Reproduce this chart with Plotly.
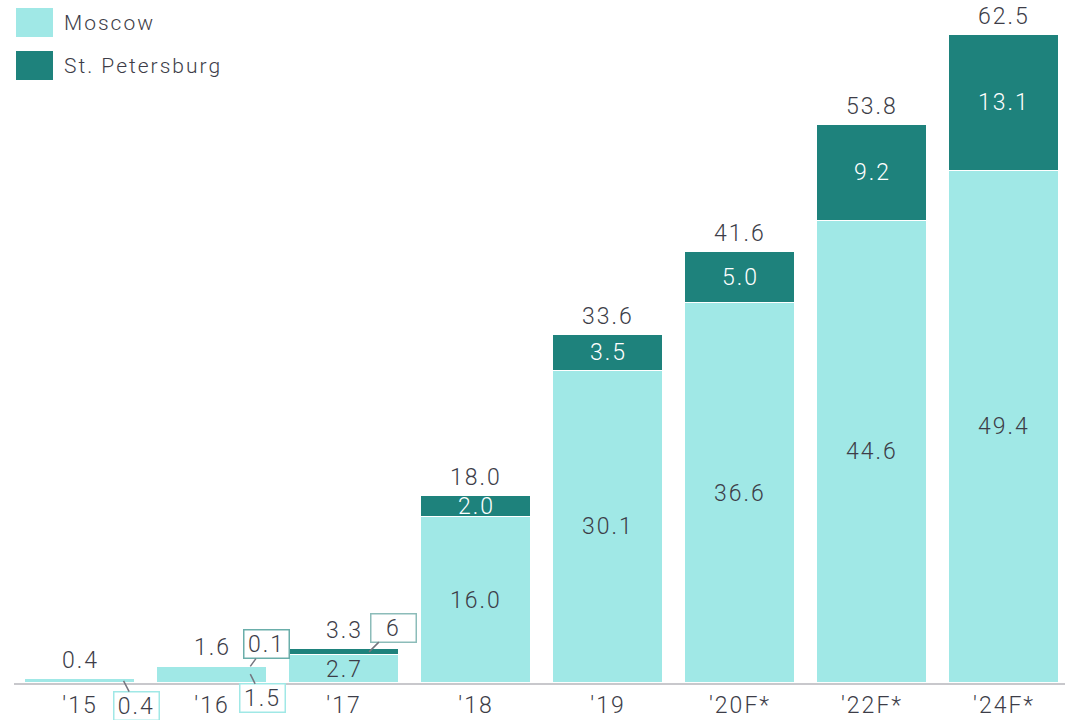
import plotly.graph_objects as go

years = ["′15", "′16", "′17", "′18", "′19", "′20F*", "′22F*", "′24F*"]
moscow = [0.4, 1.5, 2.7, 16.0, 30.1, 36.6, 44.6, 49.4]
spb = [0.0, 0.1, 0.6, 2.0, 3.5, 5.0, 9.2, 13.1]
totals = [0.4, 1.6, 3.3, 18.0, 33.6, 41.6, 53.8, 62.5]
spb_labels = ["", "0.1", "6", "2.0", "3.5", "5.0", "9.2", "13.1"]
moscow_labels = ["0.4", "1.5", "2.7", "16.0", "30.1", "36.6", "44.6", "49.4"]
legend_names = ["Moscow", "St. Petersburg"]

C_MOS = "#a0e8e6"
C_SPB = "#1e827c"
TXT = "#3d3d48"
FONT = "Roboto"
FS = 23
LS = 2  # letter spacing px

W, H = 1065, 720
ML, MT, MB = 14, 9, 37
PW, PH = W - ML, H - MT - MB

def px(xp):
    return (xp - ML) / PW

def py(yp):
    return (H - MB - yp) / PH

x = list(range(len(years)))
fig = go.Figure()
fig.add_trace(go.Bar(x=x, y=moscow, name=legend_names[0], marker=dict(color=C_MOS, line=dict(color="white", width=1)),
                     width=0.83, showlegend=False, hoverinfo="skip"))
fig.add_trace(go.Bar(x=x, y=spb, name=legend_names[1], marker=dict(color=C_SPB, line=dict(color="white", width=1)),
                     width=0.83, showlegend=False, hoverinfo="skip"))

def f(color=TXT, size=FS):
    return dict(size=size, color=color, family=FONT, weight=300)

ann = []
for i, t in enumerate(totals):
    ann.append(dict(x=i, y=t, text=f"{t:.1f}", showarrow=False, yanchor="bottom", yshift=3, font=f()))
for i in range(3, len(years)):
    ann.append(dict(x=i, y=moscow[i] / 2, text=moscow_labels[i], showarrow=False, font=f()))
    ann.append(dict(x=i, y=moscow[i] + spb[i] / 2, text=spb_labels[i], showarrow=False, font=f("white")))
ann.append(dict(x=2, y=moscow[2] / 2, text=moscow_labels[2], showarrow=False, font=f()))

def callout(xv, yv, text, ax, ay, border):
    return dict(x=xv, y=yv, text=text, showarrow=True, arrowhead=0, arrowwidth=1.5, arrowcolor="#75757f",
                ax=ax, ay=ay, bordercolor=border, borderwidth=1.5, borderpad=0, bgcolor="white",
                font=f(), width=44)

ann.append(callout(0.33, 0.2, moscow_labels[0], 13, 25, C_MOS))
ann.append(callout(1.29, moscow[1] / 2 + 0.1, moscow_labels[1], 12, 24, C_MOS))
ann.append(callout(1.29, totals[1], spb_labels[1], 16, -22, "#6aaeaa"))
ann.append(callout(2.19, moscow[2] + spb[2] / 2, spb_labels[2], 24, -24, "#8cbcb9"))

shapes = []
for j, (c, name) in enumerate(zip([C_MOS, C_SPB], legend_names)):
    top = 8 + 43 * j
    shapes.append(dict(type="rect", xref="paper", yref="paper", x0=px(16), x1=px(53),
                       y0=py(top + 29), y1=py(top), fillcolor=c, line=dict(width=0)))
    # letter spacing widens the centred text by LS per char on both sides -> compensate
    ann.append(dict(xref="paper", yref="paper", x=px(62 + len(name) * LS / 2), y=py(top + 15), text=name,
                    showarrow=False, xanchor="left", yanchor="middle", font=f(size=21)))

fig.update_layout(
    barmode="stack", bargap=0,
    width=W, height=H,
    margin=dict(l=ML, r=0, t=MT, b=MB, autoexpand=False),
    paper_bgcolor="white", plot_bgcolor="white",
    annotations=ann, shapes=shapes,
    xaxis=dict(range=[-0.5, 7.462], tickmode="array", tickvals=x, ticktext=years,
               tickfont=f(), showgrid=False, zeroline=False, automargin=False,
               showline=True, linecolor="#c8c8cc", linewidth=2, ticks="", fixedrange=True),
    yaxis=dict(range=[0, 65], visible=False, showgrid=False, zeroline=False),
)
post = ("document.body.style.margin='0px';document.body.style.overflow='hidden';"
        "document.querySelectorAll('.annotation-text, .xtick text').forEach(function(t){t.style.letterSpacing='%dpx';});" % LS)
fig.write_html("out.html", post_script=post, config={"displayModeBar": False})
